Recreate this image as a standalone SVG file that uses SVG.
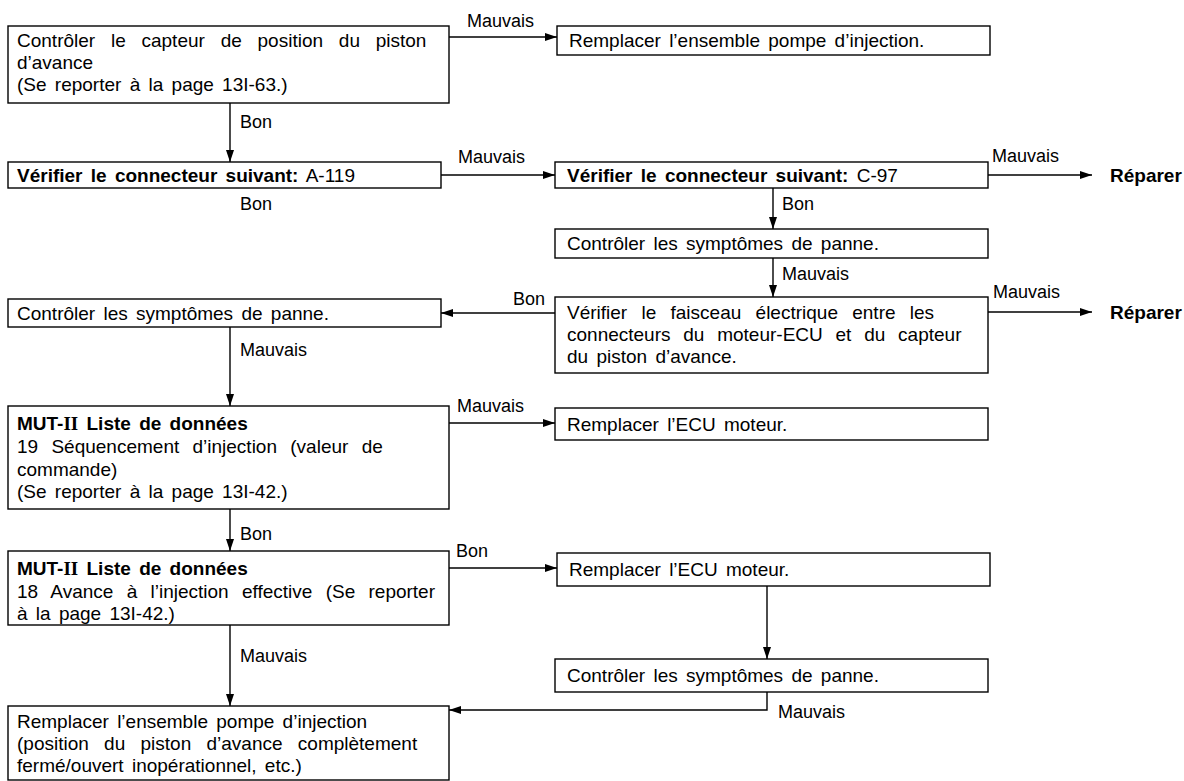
<svg xmlns="http://www.w3.org/2000/svg" width="1184" height="781" viewBox="0 0 1184 781">
<defs>
<marker id="ah" viewBox="0 0 12 8" refX="12" refY="4" markerWidth="12" markerHeight="8" markerUnits="userSpaceOnUse" orient="auto">
<path d="M0,0 L12,4 L0,8 Z" fill="#000"/>
</marker>
<style>
.box{fill:#fff;stroke:#000;stroke-width:1.4}
.t{font-family:"Liberation Sans",Arial,sans-serif;font-size:19px;fill:#000;word-spacing:3px}
.b{font-weight:bold}
.s{font-family:"Liberation Serif","Times New Roman",serif}
.lbl{font-family:"Liberation Sans",Arial,sans-serif;font-size:18px;fill:#000}
.c{fill:none;stroke:#000;stroke-width:1.4;marker-end:url(#ah)}
</style>
</defs>
<rect width="1184" height="781" fill="#fff"/>
<g id="connectors">
<line class="c" x1="449" y1="37" x2="557" y2="37"/>
<line class="c" x1="230" y1="103" x2="230" y2="162"/>
<line class="c" x1="441" y1="175" x2="555" y2="175"/>
<line class="c" x1="988" y1="175" x2="1092" y2="175"/>
<line class="c" x1="773" y1="188" x2="773" y2="229"/>
<line class="c" x1="773" y1="258" x2="773" y2="297"/>
<line class="c" x1="988" y1="312" x2="1092" y2="312"/>
<line class="c" x1="555" y1="313" x2="441" y2="313"/>
<line class="c" x1="230" y1="327" x2="230" y2="406"/>
<line class="c" x1="449" y1="423" x2="555" y2="423"/>
<line class="c" x1="230" y1="509" x2="230" y2="551"/>
<line class="c" x1="449" y1="568" x2="557" y2="568"/>
<line class="c" x1="767" y1="586" x2="767" y2="659"/>
<polyline class="c" points="767,692 767,710 449,710"/>
<line class="c" x1="230" y1="625" x2="230" y2="706"/>
<text class="lbl" x="467" y="27">Mauvais</text>
<text class="lbl" x="240" y="128">Bon</text>
<text class="lbl" x="458" y="163">Mauvais</text>
<text class="lbl" x="240" y="210">Bon</text>
<text class="lbl" x="992" y="162">Mauvais</text>
<text class="lbl" x="782" y="210">Bon</text>
<text class="lbl" x="782" y="280">Mauvais</text>
<text class="lbl" x="993" y="298">Mauvais</text>
<text class="lbl" x="513" y="305">Bon</text>
<text class="lbl" x="240" y="356">Mauvais</text>
<text class="lbl" x="457" y="412">Mauvais</text>
<text class="lbl" x="240" y="540">Bon</text>
<text class="lbl" x="456" y="557">Bon</text>
<text class="lbl" x="240" y="662">Mauvais</text>
<text class="lbl" x="778" y="718">Mauvais</text>
</g>
<g id="nA">
<rect class="box" x="8" y="26" width="441" height="77"/>
<text class="t" x="17" y="47" style="word-spacing:10.5px">Contrôler le capteur de position du piston</text>
<text class="t" x="17" y="69">d’avance</text>
<text class="t" x="17" y="91">(Se reporter à la page 13I-63.)</text>
</g>
<g id="nB">
<rect class="box" x="557" y="26" width="433" height="29"/>
<text class="t" x="569" y="47">Remplacer l’ensemble pompe d’injection.</text>
</g>
<g id="nC">
<rect class="box" x="8" y="162" width="433" height="26"/>
<text class="t" x="17" y="182"><tspan class="b">Vérifier le connecteur suivant:</tspan> A-119</text>
</g>
<g id="nD">
<rect class="box" x="555" y="162" width="433" height="26"/>
<text class="t" x="567" y="182"><tspan class="b">Vérifier le connecteur suivant:</tspan> C-97</text>
</g>
<g id="rep1">
<text class="t b" x="1110" y="182">Réparer</text>
</g>
<g id="nE">
<rect class="box" x="555" y="229" width="433" height="29"/>
<text class="t" x="567" y="250">Contrôler les symptômes de panne.</text>
</g>
<g id="nF">
<rect class="box" x="555" y="297" width="433" height="76"/>
<text class="t" x="567" y="319" style="word-spacing:9px">Vérifier le faisceau électrique entre les</text>
<text class="t" x="567" y="341" style="word-spacing:7.5px">connecteurs du moteur-ECU et du capteur</text>
<text class="t" x="567" y="363">du piston d’avance.</text>
</g>
<g id="rep2">
<text class="t b" x="1110" y="319">Réparer</text>
</g>
<g id="nG">
<rect class="box" x="8" y="299" width="433" height="28"/>
<text class="t" x="17" y="320">Contrôler les symptômes de panne.</text>
</g>
<g id="nH">
<rect class="box" x="8" y="406" width="441" height="103"/>
<text class="t b" x="17" y="430">MUT-<tspan class="s">II</tspan> Liste de données</text>
<text class="t" x="17" y="453" style="word-spacing:8px">19 Séquencement d’injection (valeur de</text>
<text class="t" x="17" y="476">commande)</text>
<text class="t" x="17" y="498">(Se reporter à la page 13I-42.)</text>
</g>
<g id="nI">
<rect class="box" x="555" y="408" width="433" height="32"/>
<text class="t" x="567" y="431">Remplacer l’ECU moteur.</text>
</g>
<g id="nJ">
<rect class="box" x="8" y="551" width="441" height="74"/>
<text class="t b" x="17" y="575">MUT-<tspan class="s">II</tspan> Liste de données</text>
<text class="t" x="17" y="598" style="word-spacing:8px">18 Avance à l’injection effective (Se reporter</text>
<text class="t" x="17" y="620">à la page 13I-42.)</text>
</g>
<g id="nK">
<rect class="box" x="557" y="553" width="433" height="33"/>
<text class="t" x="569" y="576">Remplacer l’ECU moteur.</text>
</g>
<g id="nL">
<rect class="box" x="555" y="659" width="433" height="33"/>
<text class="t" x="567" y="682">Contrôler les symptômes de panne.</text>
</g>
<g id="nM">
<rect class="box" x="8" y="706" width="441" height="74"/>
<text class="t" x="17" y="728">Remplacer l’ensemble pompe d’injection</text>
<text class="t" x="17" y="750" style="word-spacing:10px">(position du piston d’avance complètement</text>
<text class="t" x="17" y="772">fermé/ouvert inopérationnel, etc.)</text>
</g>
</svg>
